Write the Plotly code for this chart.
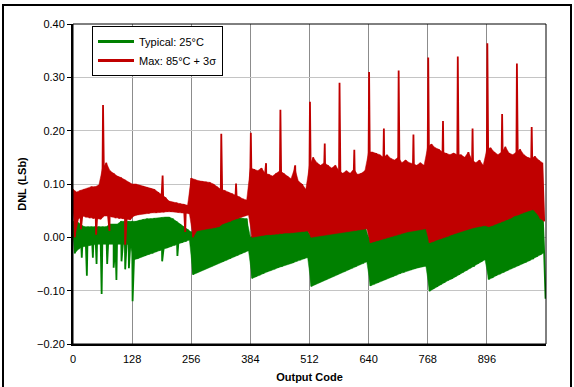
import plotly.graph_objects as go

# ---- data (read from the reference; envelopes sampled every 8 codes) ----
# upper envelope of Typical 25°C (codes 0,8,16,...,1016)
green_hi = [
    0.03, 0.03, 0.025, 0.02, 0.02, 0.02, 0.02, 0.02, 0.02, 0.02, 0.025, 0.025, 0.025, 0.03, 0.03, 0.03,
    0.03, 0.03, 0.032, 0.034, 0.035, 0.035, 0.036, 0.036, 0.037, 0.038, 0.038, 0.035, 0.03, 0.025, 0.02, 0.015,
    0.01, 0.015, 0.02, 0.025, 0.03, 0.032, 0.034, 0.035, 0.035, 0.036, 0.036, 0.037, 0.037, 0.036, 0.035, 0.035,
    0.0, 0.005, 0.008, 0.01, 0.012, 0.014, 0.015, 0.016, 0.018, 0.018, 0.02, 0.02, 0.022, 0.022, 0.024, 0.025,
    0.005, 0.008, 0.01, 0.012, 0.012, 0.014, 0.015, 0.015, 0.016, 0.017, 0.018, 0.019, 0.02, 0.02, 0.021, 0.022,
    0.0, 0.005, 0.008, 0.01, 0.012, 0.015, 0.016, 0.018, 0.02, 0.022, 0.024, 0.025, 0.026, 0.028, 0.03, 0.03,
    0.01, 0.012, 0.015, 0.018, 0.02, 0.022, 0.024, 0.025, 0.026, 0.028, 0.03, 0.032, 0.034, 0.036, 0.038, 0.04,
    0.03, 0.032, 0.035, 0.038, 0.04, 0.045, 0.05, 0.052, 0.055, 0.058, 0.06, 0.062, 0.064, 0.065, 0.065, 0.06,
]
# lower envelope of Typical 25°C (codes 4,12,20,...,1020)
green_lo = [
    -0.03, -0.022, -0.018, -0.016, -0.015, -0.014, -0.013, -0.012, -0.012, -0.012, -0.012, -0.012, -0.012, -0.013, -0.013, -0.014,
    -0.042, -0.04, -0.037, -0.035, -0.032, -0.03, -0.027, -0.025, -0.022, -0.02, -0.017, -0.015, -0.012, -0.01, -0.008, -0.005,
    -0.07, -0.066, -0.063, -0.06, -0.057, -0.054, -0.051, -0.048, -0.046, -0.043, -0.04, -0.037, -0.034, -0.031, -0.028, -0.025,
    -0.077, -0.074, -0.071, -0.068, -0.065, -0.062, -0.06, -0.057, -0.055, -0.052, -0.05, -0.048, -0.045, -0.043, -0.04, -0.038,
    -0.092, -0.088, -0.085, -0.082, -0.079, -0.076, -0.073, -0.07, -0.067, -0.064, -0.061, -0.058, -0.055, -0.052, -0.049, -0.046,
    -0.091, -0.088, -0.085, -0.082, -0.079, -0.076, -0.074, -0.071, -0.068, -0.066, -0.063, -0.061, -0.059, -0.057, -0.055, -0.054,
    -0.101, -0.097, -0.093, -0.089, -0.085, -0.081, -0.078, -0.074, -0.07, -0.066, -0.062, -0.058, -0.055, -0.05, -0.046, -0.042,
    -0.079, -0.076, -0.072, -0.069, -0.066, -0.062, -0.059, -0.056, -0.053, -0.05, -0.047, -0.044, -0.041, -0.037, -0.033, -0.029,
]
green_spike_codes = [19, 30, 43, 51, 62, 74, 88, 94, 105, 113, 121, 129, 193, 226, 1023]
green_spike_vals = [-0.038, -0.072, -0.038, -0.05, -0.106, -0.05, -0.057, -0.08, -0.045, -0.06, -0.058, -0.12, -0.045, -0.035, -0.115]

# upper envelope of Max 85°C + 3σ (codes 0,8,...,1016)
red_hi = [
    0.09, 0.085, 0.088, 0.09, 0.092, 0.095, 0.095, 0.098, 0.13, 0.14, 0.125, 0.12, 0.115, 0.112, 0.108, 0.103,
    0.1, 0.1, 0.098, 0.096, 0.094, 0.092, 0.09, 0.085, 0.08, 0.075, 0.068, 0.066, 0.065, 0.063, 0.062, 0.06,
    0.111, 0.108, 0.106, 0.105, 0.104, 0.103, 0.1, 0.095, 0.09, 0.088, 0.085, 0.082, 0.08, 0.076, 0.072, 0.07,
    0.13, 0.128, 0.125, 0.13, 0.12, 0.118, 0.115, 0.12, 0.125, 0.12, 0.115, 0.11, 0.13, 0.105, 0.1, 0.09,
    0.135, 0.15, 0.14, 0.135, 0.14, 0.135, 0.13, 0.135, 0.125, 0.12, 0.125, 0.12, 0.128, 0.118, 0.12, 0.125,
    0.16, 0.16, 0.158, 0.155, 0.15, 0.155, 0.148, 0.145, 0.15, 0.14, 0.145, 0.14, 0.138, 0.135, 0.14, 0.135,
    0.17, 0.175, 0.168, 0.165, 0.16, 0.158, 0.155, 0.158, 0.155, 0.155, 0.15, 0.16, 0.145, 0.14, 0.145, 0.135,
    0.165, 0.168, 0.16, 0.155, 0.16, 0.17, 0.158, 0.155, 0.16, 0.165, 0.155, 0.15, 0.148, 0.152, 0.145, 0.14,
]
# lower envelope of Max 85°C + 3σ (codes 4,12,...,1020)
red_lo = [
    0.0, 0.035, 0.04, 0.038, 0.036, 0.035, 0.035, 0.034, 0.04, 0.04, 0.038, 0.036, 0.035, 0.035, 0.034, 0.033,
    0.04, 0.042, 0.044, 0.045, 0.045, 0.046, 0.046, 0.047, 0.047, 0.048, 0.048, 0.048, 0.047, 0.046, 0.045, 0.044,
    0.0, 0.012, 0.014, 0.015, 0.016, 0.017, 0.018, 0.02, 0.025, 0.028, 0.03, 0.033, 0.035, 0.038, 0.04, 0.042,
    0.0, 0.002, 0.003, 0.004, 0.005, 0.005, 0.006, 0.006, 0.007, 0.008, 0.008, 0.009, 0.01, 0.01, 0.011, 0.012,
    0.0, 0.002, 0.003, 0.004, 0.005, 0.006, 0.007, 0.008, 0.009, 0.01, 0.011, 0.012, 0.013, 0.014, 0.015, 0.016,
    -0.01, -0.008, -0.006, -0.004, -0.002, 0.0, 0.002, 0.004, 0.006, 0.008, 0.01, 0.012, 0.013, 0.014, 0.015, 0.016,
    -0.01, -0.008, -0.005, -0.003, 0.0, 0.002, 0.005, 0.008, 0.01, 0.012, 0.014, 0.016, 0.018, 0.02, 0.021, 0.022,
    0.02, 0.022, 0.025, 0.028, 0.03, 0.033, 0.036, 0.04, 0.042, 0.045, 0.048, 0.05, 0.052, 0.045, 0.035, 0.03,
]
red_spike_codes = [17, 50, 65, 79, 113, 194, 243, 321, 353, 385, 418, 449, 481, 513, 545, 577, 609,
                   641, 673, 705, 737, 769, 801, 833, 865, 897, 929, 961, 993]
red_spike_vals = [0.015, 0.005, 0.248, 0.012, -0.014, 0.116, 0.01, 0.194, 0.101, 0.196, 0.139, 0.239, 0.135,
                  0.254, 0.176, 0.29, 0.164, 0.31, 0.204, 0.313, 0.193, 0.337, 0.218, 0.339, 0.204,
                  0.364, 0.231, 0.326, 0.207]

x_ticks = [0, 128, 256, 384, 512, 640, 768, 896]
y_ticks = [-0.2, -0.1, 0.0, 0.1, 0.2, 0.3, 0.4]


def build(hi, lo, sc, sv):
    pts = []
    for j, v in enumerate(hi):
        pts.append((8 * j, v))
    for j, v in enumerate(lo):
        pts.append((8 * j + 4, v))
    for c, v in zip(sc, sv):
        pts.append((c + 0.01, v))
    pts.sort(key=lambda p: p[0])
    return [p[0] for p in pts], [p[1] for p in pts]


def band(hi, lo):
    xs = [8 * j for j in range(len(hi))] + [8 * j + 4 for j in range(len(lo))][::-1]
    ys = list(hi) + list(lo)[::-1]
    return xs, ys


gx, gy = build(green_hi, green_lo, green_spike_codes, green_spike_vals)
rx, ry = build(red_hi, red_lo, red_spike_codes, red_spike_vals)
gbx, gby = band(green_hi, green_lo)
rbx, rby = band(red_hi, red_lo)

GREEN = "#008000"
RED = "#C00000"
FONT = "Arial, Liberation Sans, sans-serif"

fig = go.Figure()
fig.add_trace(go.Scatter(x=gbx, y=gby, mode="lines", fill="toself", fillcolor=GREEN,
                         line=dict(color=GREEN, width=0.5), showlegend=False, hoverinfo="skip"))
fig.add_trace(go.Scatter(x=gx, y=gy, mode="lines",
                         line=dict(color=GREEN, width=1.8, simplify=False),
                         showlegend=False, hoverinfo="skip"))
fig.add_trace(go.Scatter(x=rbx, y=rby, mode="lines", fill="toself", fillcolor=RED,
                         line=dict(color=RED, width=0.5), showlegend=False, hoverinfo="skip"))
fig.add_trace(go.Scatter(x=rx, y=ry, mode="lines",
                         line=dict(color=RED, width=1.8, simplify=False),
                         showlegend=False, hoverinfo="skip"))
# legend entries
fig.add_trace(go.Scatter(x=[None], y=[None], mode="lines", line=dict(color=GREEN, width=3),
                         name="Typical: 25°C"))
fig.add_trace(go.Scatter(x=[None], y=[None], mode="lines", line=dict(color=RED, width=3),
                         name="Max: 85°C + 3σ"))

L, R, T, B = 73, 546, 24, 344
W, H = 574, 387
pw, ph = R - L, B - T

fig.update_layout(
    width=W, height=H,
    margin=dict(l=L, r=W - R, t=T, b=H - B, pad=0, autoexpand=False),
    paper_bgcolor="white", plot_bgcolor="white",
    font=dict(family=FONT, size=11, color="#000000"),
    legend=dict(x=(92 - L) / pw, y=(B - 26) / ph, xanchor="left", yanchor="top",
                bgcolor="white", bordercolor="black", borderwidth=1,
                font=dict(size=11, family=FONT), tracegroupgap=0, itemwidth=36),
    xaxis=dict(range=[0, 1024], tickvals=x_ticks, ticktext=[str(v) for v in x_ticks],
               showgrid=True, gridcolor="#8c8c8c", gridwidth=1,
               showline=True, linecolor="black", linewidth=2,
               ticks="", zeroline=False, ticklabelstandoff=4, automargin=False,
               title=dict(text="<b>Output Code</b>", font=dict(size=11), standoff=9)),
    yaxis=dict(range=[-0.2, 0.4], tickvals=y_ticks, tickformat=".2f",
               showgrid=True, gridcolor="#c4c4c4", gridwidth=1,
               showline=True, linecolor="black", linewidth=2,
               ticks="outside", ticklen=4, tickcolor="black", tickwidth=1,
               zeroline=False, automargin=False,
               title=dict(text="<b>DNL (LSb)</b>", font=dict(size=11), standoff=8)),
    shapes=[
        dict(type="rect", xref="paper", yref="paper", x0=0, x1=1, y0=0, y1=1,
             line=dict(color="black", width=1), layer="above"),
        dict(type="rect", xref="paper", yref="paper",
             x0=(3 - L) / pw, x1=(571 - L) / pw, y0=(B - 392) / ph, y1=(B - 5) / ph,
             line=dict(color="black", width=2), layer="above"),
    ],
)

fig.write_html("out.html", config={"displayModeBar": False},
               post_script="document.body.style.margin='0';")
